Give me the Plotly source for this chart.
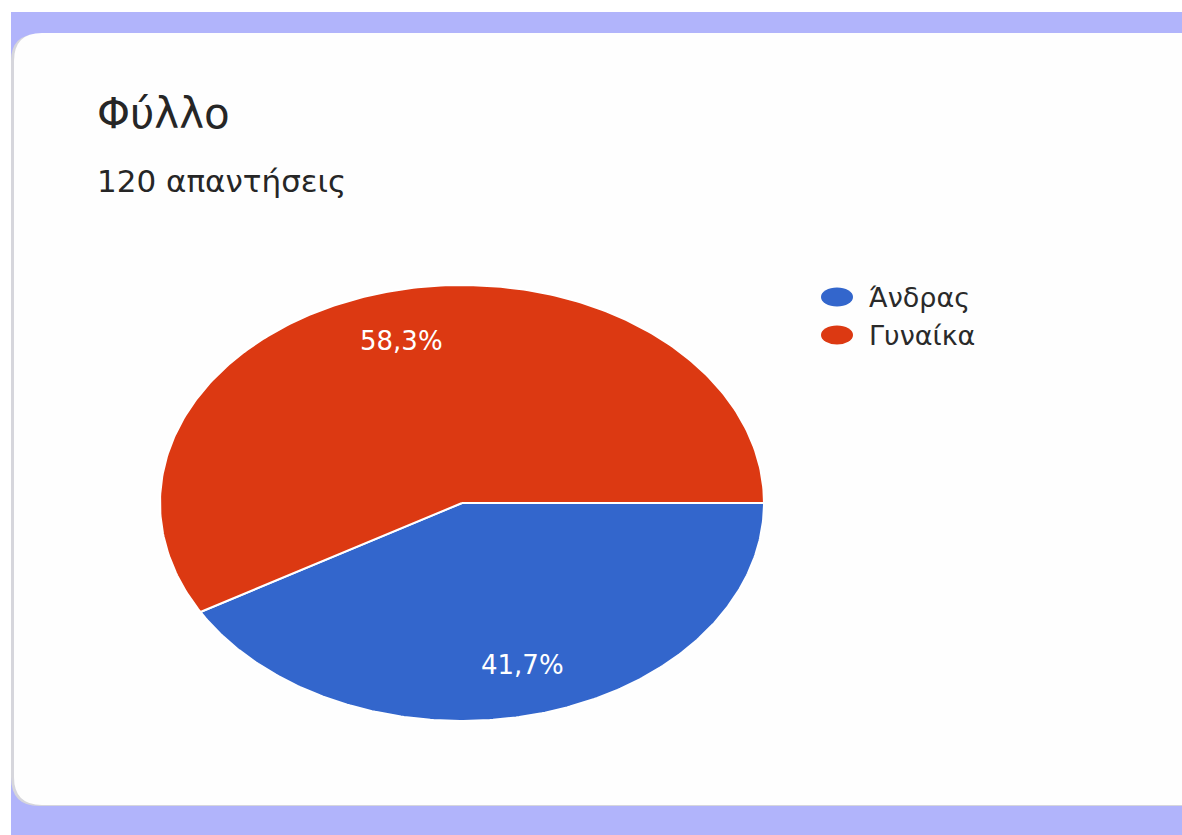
import numpy as np
import plotly.graph_objects as go

# Survey data
categories = ["Άνδρας", "Γυναίκα"]
responses = [50, 70]
colors = ["#3366cc", "#dc3912"]
title_text = "Φύλλο"
subtitle_text = "120 απαντήσεις"

W, H = 1182, 835
FONT = "DejaVu Sans"

# Pie geometry in page pixels (ellipse, starts at 3 o'clock, clockwise)
CX, CY = 462, 503
RX, RY = 302, 218
START_DEG = 90.0
LABEL_R = 0.77


def ellipse_point(theta_deg, scale=1.0):
    t = np.radians(theta_deg)
    return CX + scale * RX * np.sin(t), CY - scale * RY * np.cos(t)


fig = go.Figure()

total = sum(responses)
angle = START_DEG
annotations = []
for name, val, col in zip(categories, responses, colors):
    sweep = 360.0 * val / total
    thetas = np.linspace(angle, angle + sweep, 240)
    xs, ys = ellipse_point(thetas)
    px = np.concatenate([[CX], xs, [CX]])
    py = np.concatenate([[CY], ys, [CY]])
    fig.add_trace(go.Scatter(
        x=px, y=py, mode="lines", fill="toself", fillcolor=col,
        line=dict(color="white", width=2), name=name,
        hoverinfo="name", showlegend=False,
    ))
    mid = angle + sweep / 2
    lx, ly = ellipse_point(mid, LABEL_R)
    pct = f"{100.0 * val / total:.1f}".replace(".", ",") + "%"
    annotations.append(dict(
        x=lx, y=ly, xref="x", yref="y", text=pct, showarrow=False,
        font=dict(family=FONT, size=26, color="white"),
        xanchor="center", yanchor="middle",
    ))
    angle += sweep

# Legend drawn as markers + text
shapes = []
LEG_X, LEG_Y0, LEG_DY = 837, 297, 38
for i, (name, col) in enumerate(zip(categories, colors)):
    yc = LEG_Y0 + i * LEG_DY
    shapes.append(dict(type="circle", xref="x", yref="y",
                       x0=LEG_X - 16, x1=LEG_X + 16, y0=yc - 9.5, y1=yc + 9.5,
                       fillcolor=col, line=dict(width=0), layer="above"))
    annotations.append(dict(
        x=LEG_X + 30, y=yc, xref="x", yref="y", text=name, showarrow=False,
        font=dict(family=FONT, size=27, color="#2a2a2a"),
        xanchor="left", yanchor="middle",
    ))

# Title and subtitle
annotations.append(dict(
    x=95, y=113, xref="x", yref="y", text=title_text, showarrow=False,
    font=dict(family=FONT, size=42, color="#262626"),
    xanchor="left", yanchor="middle",
))
annotations.append(dict(
    x=95, y=181, xref="x", yref="y", text=subtitle_text, showarrow=False,
    font=dict(family=FONT, size=31, color="#262626"),
    xanchor="left", yanchor="middle",
))

# Page backdrop: lavender band, card shadow edge, white rounded card
R = 28
x0c, y0c, x1c, y1c = 14, 33, W + 40, 805
card_path = (
    f"M {x0c + R},{y0c} L {x1c},{y0c} L {x1c},{y1c} L {x0c + R},{y1c} "
    f"Q {x0c},{y1c} {x0c},{y1c - R} L {x0c},{y0c + R} Q {x0c},{y0c} {x0c + R},{y0c} Z"
)
shadow_path = (
    f"M {x0c - 3 + R},{y0c + 1} L {x1c},{y0c + 1} L {x1c},{y1c + 1} L {x0c - 3 + R},{y1c + 1} "
    f"Q {x0c - 3},{y1c + 1} {x0c - 3},{y1c - R} L {x0c - 3},{y0c + R} Q {x0c - 3},{y0c + 1} {x0c - 3 + R},{y0c + 1} Z"
)
backdrop = [
    dict(type="rect", xref="x", yref="y", x0=11, x1=W + 10, y0=12, y1=H + 10,
         fillcolor="#b1b4fb", line=dict(width=0), layer="below"),
    dict(type="path", xref="x", yref="y", path=shadow_path,
         fillcolor="#d6d6dc", line=dict(width=0), layer="below"),
    dict(type="path", xref="x", yref="y", path=card_path,
         fillcolor="#fefefe", line=dict(width=0), layer="below"),
]

fig.update_layout(
    width=W, height=H,
    margin=dict(l=0, r=0, t=0, b=0),
    paper_bgcolor="white", plot_bgcolor="rgba(0,0,0,0)",
    xaxis=dict(range=[0, W], visible=False, fixedrange=True),
    yaxis=dict(range=[H, 0], visible=False, fixedrange=True),
    shapes=backdrop + shapes,
    annotations=annotations,
    showlegend=False,
)

fig.write_html("out.html")
